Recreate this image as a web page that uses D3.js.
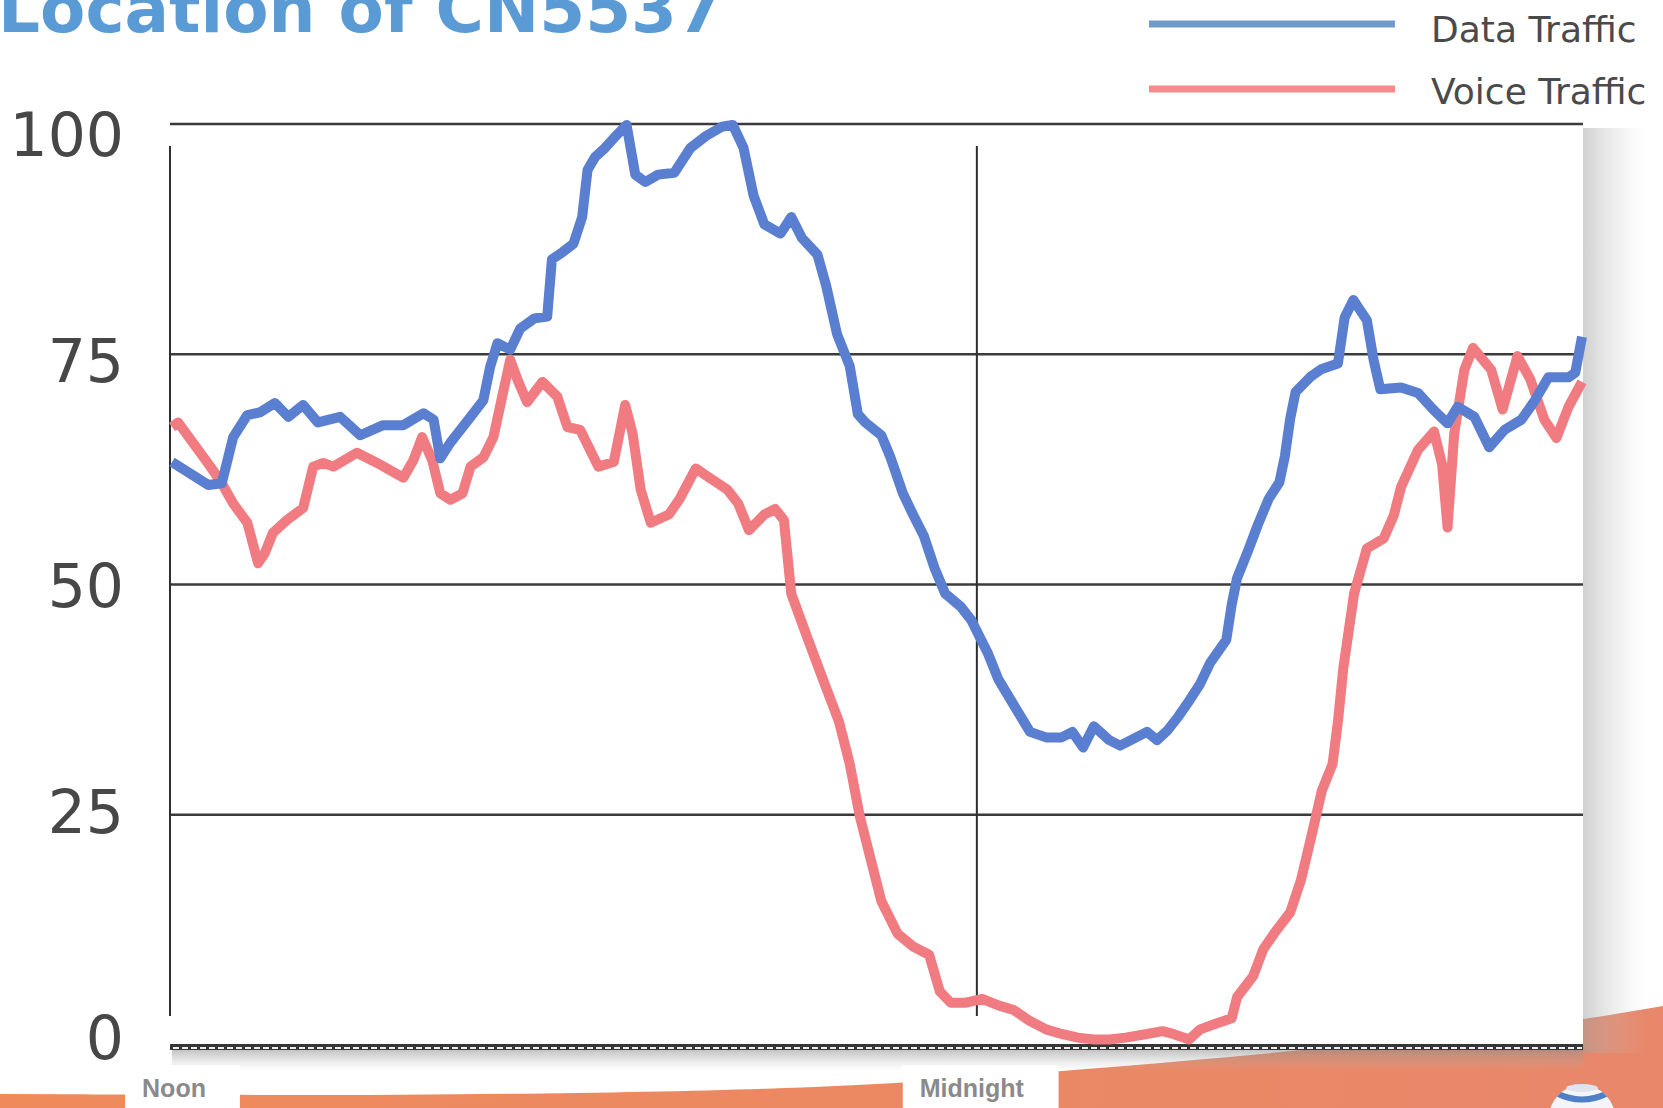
<!DOCTYPE html>
<html><head><meta charset="utf-8">
<script src="https://cdn.jsdelivr.net/npm/d3@7/dist/d3.min.js"></script>
<style>html,body{margin:0;padding:0;background:#fff;overflow:hidden}</style>
</head><body>
<svg id="chart" width="1663" height="1108"></svg>
<script>
// ---------- data ----------
const title = "Location of CN5537";
const seriesNames = ["Data Traffic", "Voice Traffic"];
const yTicks = [0, 25, 50, 75, 100];
const xTickHours = [0, 12];
const xTickLabels = ["Noon", "Midnight"];

// hours after noon
const dataHours = [0.03,0.57,0.77,0.94,1.15,1.34,1.56,1.76,1.98,2.20,2.53,2.83,3.17,3.47,3.77,3.92,4.02,4.17,4.47,4.66,4.76,4.87,5.06,5.21,5.42,5.61,5.68,5.84,6.00,6.13,6.21,6.32,6.47,6.63,6.79,6.92,7.07,7.26,7.50,7.74,7.97,8.21,8.37,8.53,8.68,8.84,9.08,9.24,9.40,9.63,9.76,9.92,10.11,10.23,10.34,10.58,10.71,10.90,11.05,11.21,11.37,11.53,11.76,11.92,12.16,12.32,12.55,12.79,13.03,13.26,13.42,13.58,13.74,13.97,14.13,14.37,14.53,14.68,14.84,15.00,15.16,15.32,15.47,15.71,15.79,15.87,16.03,16.18,16.34,16.50,16.58,16.66,16.74,16.97,17.13,17.37,17.47,17.60,17.80,17.90,18.00,18.31,18.56,18.80,19.00,19.15,19.40,19.62,19.85,20.10,20.30,20.50,20.80,20.90,21.00];
const dataValues = [63.3,60.8,61.0,66.0,68.4,68.7,69.7,68.2,69.5,67.6,68.2,66.2,67.3,67.3,68.6,67.9,63.7,65.4,68.2,70.0,73.6,76.2,75.5,77.8,78.9,79.1,85.3,86.1,87.0,89.9,95.0,96.4,97.4,98.7,99.9,94.5,93.7,94.5,94.7,97.4,98.7,99.7,99.9,97.4,92.2,89.1,88.1,89.9,87.6,85.8,82.4,77.2,73.7,68.5,67.6,66.2,63.9,59.9,57.6,55.3,51.8,49.0,47.6,46.1,42.6,39.7,36.9,34.0,33.4,33.4,34.0,32.3,34.6,33.1,32.5,33.4,34.0,33.1,34.2,35.7,37.4,39.2,41.5,44.0,47.8,50.7,53.6,56.5,59.3,61.1,63.9,68.0,70.9,72.6,73.4,74.0,79.0,80.9,78.7,74.4,71.2,71.4,70.8,68.9,67.5,69.3,68.2,64.9,66.8,67.9,70.0,72.5,72.5,73.0,76.9];

const voiceHours = [0.03,0.12,0.34,0.60,0.77,0.94,1.15,1.31,1.41,1.53,1.74,1.98,2.13,2.28,2.43,2.78,3.08,3.47,3.62,3.75,3.90,4.02,4.17,4.35,4.47,4.66,4.81,4.94,5.06,5.17,5.31,5.54,5.76,5.91,6.10,6.37,6.60,6.77,6.88,7.00,7.15,7.42,7.58,7.82,8.02,8.29,8.45,8.61,8.84,9.00,9.13,9.24,9.47,9.71,9.95,10.11,10.26,10.42,10.58,10.82,11.05,11.29,11.45,11.61,11.84,12.08,12.32,12.55,12.79,13.03,13.26,13.50,13.74,13.97,14.21,14.53,14.76,14.92,15.16,15.32,15.55,15.79,15.87,16.11,16.26,16.42,16.66,16.82,16.97,17.13,17.29,17.37,17.45,17.61,17.80,18.05,18.20,18.31,18.56,18.80,18.92,19.00,19.10,19.25,19.38,19.65,19.82,20.04,20.23,20.44,20.62,20.80,21.00];
const voiceValues = [67.1,67.6,65.4,62.8,61.0,58.8,56.7,52.3,53.4,55.6,57.0,58.3,62.8,63.2,62.8,64.3,63.2,61.6,63.5,66.0,63.5,59.9,59.2,59.9,62.8,63.8,66.0,70.4,74.4,72.2,69.8,72.0,70.4,67.1,66.8,62.8,63.3,69.5,66.4,60.3,56.7,57.6,59.3,62.6,61.6,60.3,58.8,55.9,57.6,58.2,57.0,49.0,44.4,39.7,35.1,30.5,24.8,20.2,15.6,12.1,10.7,9.8,5.8,4.6,4.6,5.0,4.3,3.8,2.6,1.7,1.2,0.8,0.6,0.6,0.8,1.2,1.5,1.2,0.6,1.7,2.3,2.9,5.2,7.5,10.4,12.1,14.4,17.9,22.5,27.6,30.5,35.1,40.9,49.0,53.9,55.0,57.5,60.6,64.6,66.6,63.0,56.2,66.4,73.3,75.7,73.3,69.0,74.8,72.3,67.9,65.9,69.3,72.0];

const seriesColors = ["#5a7fd0", "#f07c82"];
const legendColors = ["#6f9bcb", "#f58b8b"];

// ---------- layout ----------
const W = 1663, H = 1108;
const svg = d3.select("#chart");
const x = d3.scaleLinear().domain([0, 21]).range([170, 1582]);
const y = d3.scaleLinear().domain([0, 100]).range([1045, 124]);
const yLab = d3.scaleLinear().domain([0, 100]).range([1037, 134]);

const defs = svg.append("defs");
const gR = defs.append("linearGradient").attr("id", "shR").attr("x1", 0).attr("x2", 1).attr("y1", 0).attr("y2", 0);
gR.append("stop").attr("offset", 0).attr("stop-color", "#a0a0a0").attr("stop-opacity", 0.5);
gR.append("stop").attr("offset", 0.5).attr("stop-color", "#b8b8b8").attr("stop-opacity", 0.25);
gR.append("stop").attr("offset", 1).attr("stop-color", "#cccccc").attr("stop-opacity", 0);
const gB = defs.append("linearGradient").attr("id", "shB").attr("x1", 0).attr("x2", 0).attr("y1", 0).attr("y2", 1);
gB.append("stop").attr("offset", 0).attr("stop-color", "#8a8a8a").attr("stop-opacity", 0.55);
gB.append("stop").attr("offset", 1).attr("stop-color", "#bbbbbb").attr("stop-opacity", 0);
const gO = defs.append("linearGradient").attr("id", "org").attr("x1", 0).attr("x2", 1).attr("y1", 0).attr("y2", 0);
gO.append("stop").attr("offset", 0).attr("stop-color", "#ef8a5a");
gO.append("stop").attr("offset", 1).attr("stop-color", "#e8876a");

svg.append("rect").attr("width", W).attr("height", H).attr("fill", "#fff");

// orange swoosh (background decoration)
const swoosh = [[0,1094],[400,1096],[800,1090],[1000,1076],[1200,1060],[1450,1036],[1583,1020],[1663,1006]];
svg.append("path")
  .attr("d", d3.area().x(d => d[0]).y0(H).y1(d => d[1]).curve(d3.curveBasis)(swoosh))
  .attr("fill", "url(#org)");

// shadows
svg.append("rect").attr("x", 1583).attr("y", 128).attr("width", 62).attr("height", 925).attr("fill", "url(#shR)");
svg.append("rect").attr("x", 172).attr("y", 1049).attr("width", 1411).attr("height", 22).attr("fill", "url(#shB)");

// plot background
svg.append("rect").attr("x", x(0)).attr("y", y(100)).attr("width", x(21) - x(0) + 1).attr("height", y(0) - y(100)).attr("fill", "#fff");

// horizontal grid
svg.append("g").selectAll("line").data(yTicks.filter(t => t > 0)).join("line")
  .attr("x1", x(0)).attr("x2", x(21) + 1).attr("y1", d => y(d)).attr("y2", d => y(d))
  .attr("stroke", "#3b3b3b").attr("stroke-width", 2.5);

// vertical lines at noon & midnight
svg.append("g").selectAll("line").data(xTickHours).join("line")
  .attr("x1", d => x(d)).attr("x2", d => x(d)).attr("y1", 146).attr("y2", 1016)
  .attr("stroke", "#2e2e2e").attr("stroke-width", 2);

// bottom axis (dashed band)
svg.append("line").attr("x1", x(0)).attr("x2", x(21) + 1).attr("y1", y(0) + 2).attr("y2", y(0) + 2)
  .attr("stroke", "#363636").attr("stroke-width", 6);
svg.append("line").attr("x1", x(0) + 3).attr("x2", x(21)).attr("y1", y(0) + 3).attr("y2", y(0) + 3)
  .attr("stroke", "#eeeeee").attr("stroke-width", 2.2).attr("stroke-dasharray", "6,3");

// series
const line = d3.line().x(d => x(d[0])).y(d => y(d[1])).curve(d3.curveLinear);
const series = [d3.zip(dataHours, dataValues), d3.zip(voiceHours, voiceValues)];
[1, 0].forEach(i => {
  svg.append("path").attr("d", line(series[i])).attr("fill", "none")
    .attr("stroke", seriesColors[i]).attr("stroke-width", 10)
    .attr("stroke-linejoin", "round").attr("stroke-linecap", "butt");
});

// y tick labels
svg.append("g").selectAll("text").data(yTicks).join("text")
  .attr("x", 124).attr("y", d => yLab(d)).attr("dy", "0.365em")
  .attr("text-anchor", "end").attr("font-family", "DejaVu Sans").attr("font-size", 60)
  .attr("fill", "#474747").text(d => d);

// x tick labels with white boxes
const xl = svg.append("g");
const xLabelShift = [4, -5];
xTickHours.forEach((h, i) => {
  const t = xl.append("text").attr("x", x(h) + xLabelShift[i]).attr("y", 1097).attr("text-anchor", "middle")
    .attr("font-family", "Liberation Sans, Arial").attr("font-weight", "bold").attr("font-size", 25)
    .attr("fill", "#8a8a8a").text(xTickLabels[i]);
  const bb = t.node().getBBox();
  xl.insert("rect", "text").attr("x", bb.x - 17).attr("y", 1065).attr("width", bb.width + 51).attr("height", H - 1065).attr("fill", "#fff");
});

// legend
const lg = svg.append("g");
seriesNames.forEach((n, i) => {
  const ly = [24, 89][i];
  lg.append("line").attr("x1", 1149).attr("x2", 1395).attr("y1", ly).attr("y2", ly)
    .attr("stroke", legendColors[i]).attr("stroke-width", 7);
  lg.append("text").attr("x", 1431).attr("y", [42, 104][i]).attr("font-family", "DejaVu Sans")
    .attr("font-size", 36).attr("fill", "#4a4a4a").text(n);
});

// title (cut at top edge, as in the reference)
svg.append("text").attr("x", -2).attr("y", 32).attr("font-family", "DejaVu Sans").attr("font-weight", "bold")
  .attr("font-size", 66).attr("fill", "#5b9bd5").text(title);

// partial globe logo at bottom right
const gl = svg.append("g");
defs.append("clipPath").attr("id", "glc").append("circle").attr("cx", 1582).attr("cy", 1118).attr("r", 33);
gl.append("circle").attr("cx", 1582).attr("cy", 1118).attr("r", 33).attr("fill", "#f3f5f9");
gl.append("path").attr("d", "M1556,1093 Q1582,1106 1608,1093").attr("fill", "none")
  .attr("stroke", "#4f80c6").attr("stroke-width", 6).attr("clip-path", "url(#glc)");
gl.append("ellipse").attr("cx", 1582).attr("cy", 1088).attr("rx", 16).attr("ry", 4).attr("fill", "#dde4ee");
</script>
</body></html>
